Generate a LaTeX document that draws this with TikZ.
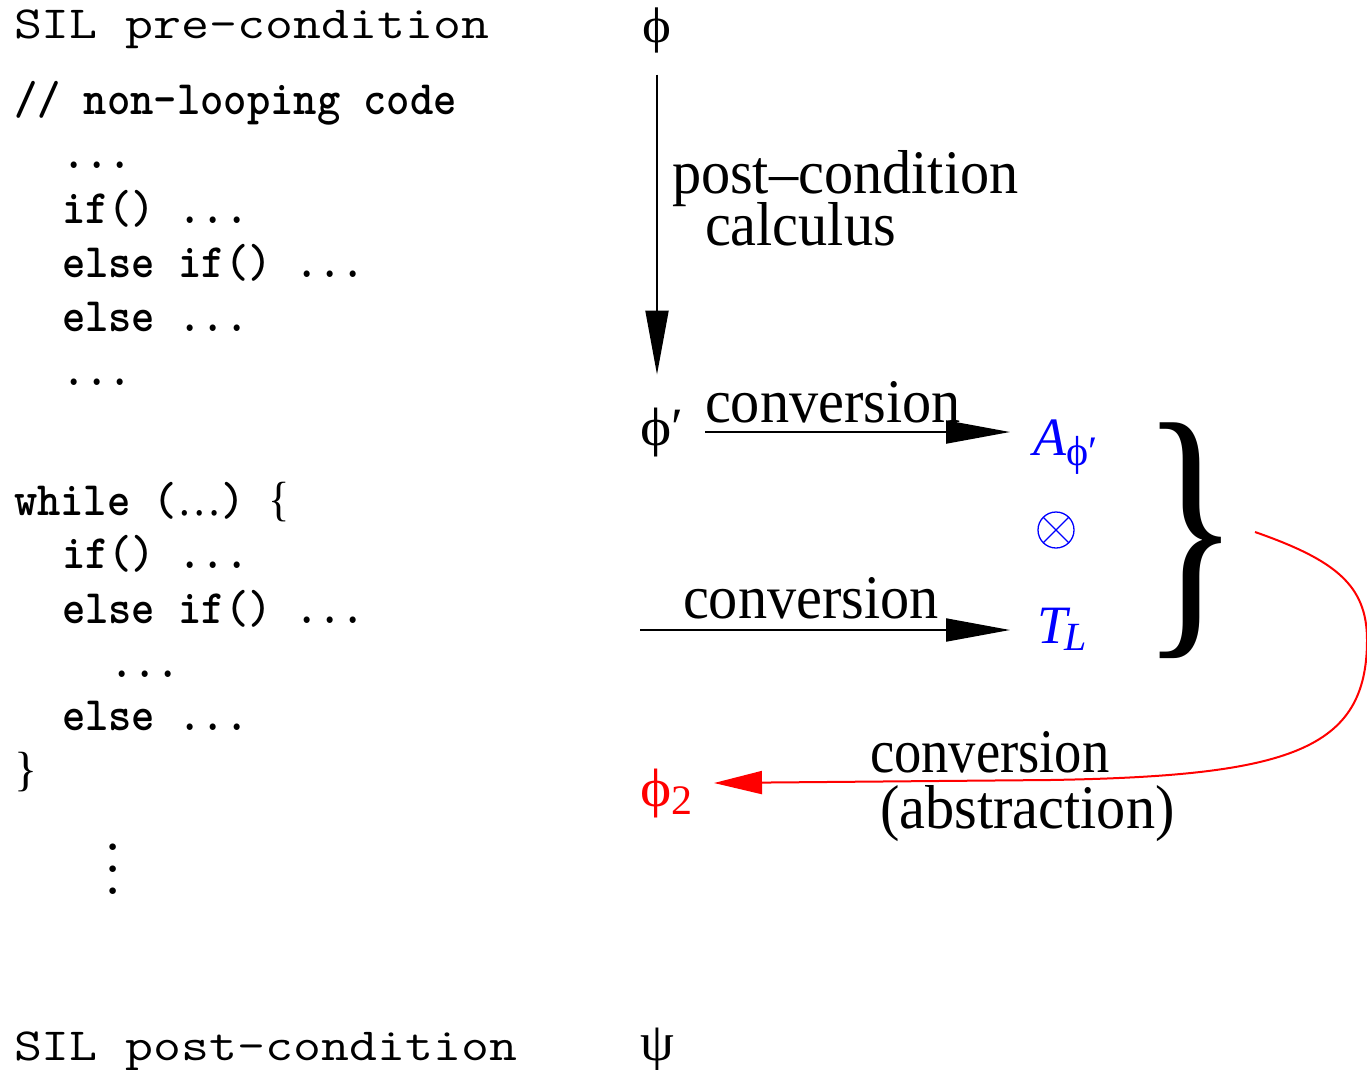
\documentclass[tikz,border=0pt]{standalone}
\usepackage{fontspec}
\setmainfont{Liberation Serif}
\usetikzlibrary{arrows.meta}
\begin{document}
\begin{tikzpicture}[x=1pt,y=-1pt,
  every node/.style={inner sep=0pt, outer sep=0pt},
  sil/.style={anchor=base west, font=\fontsize{46}{46}\selectfont\ttfamily},
  code/.style={anchor=base west, font=\fontsize{48}{48}\selectfont\ttfamily\bfseries},
  lbl/.style={anchor=base west, font=\fontsize{62}{62}\selectfont},
  sym/.style={font=\fontsize{54}{54}\selectfont},
  otimes/.style={circle, draw=blue, line width=1.3pt, minimum size=36pt,
    path picture={\draw[blue, line width=1.3pt]
      (path picture bounding box.north west) -- (path picture bounding box.south east)
      (path picture bounding box.north east) -- (path picture bounding box.south west);}},
  arr/.style={line width=2pt, -{Triangle[length=64pt,width=23pt]}},
  redarr/.style={red, line width=2pt, -{Triangle[length=48pt,width=23pt]}},
]
\useasboundingbox (0,0) rectangle (1367,1070);

% ---- SIL program text (left column) ----
\node[sil] (pre) at (14,39) {\scalebox{1.18}[1]{SIL pre-condition}};
\node[code] (c0) at (14,115) {\scalebox{0.925}[1]{// non-looping code}};
\node[code] (c1) at (62,168) {\scalebox{0.925}[1]{...}};
\node[code] (c2) at (62,223) {\scalebox{0.925}[1]{if() ...}};
\node[code] (c3) at (62,277) {\scalebox{0.925}[1]{else if() ...}};
\node[code] (c4) at (62,331) {\scalebox{0.925}[1]{else ...}};
\node[code] (c5) at (62,385) {\scalebox{0.925}[1]{...}};

\node[code] (w0) at (14,515) {\scalebox{0.925}[1]{while (\rmfamily\mdseries …\ttfamily\bfseries) \rmfamily\mdseries\{}};
\node[code] (w1) at (62,568) {\scalebox{0.925}[1]{if() ...}};
\node[code] (w2) at (62,623) {\scalebox{0.925}[1]{else if() ...}};
\node[code] (w3) at (110,677) {\scalebox{0.925}[1]{...}};
\node[code] (w4) at (62,730) {\scalebox{0.925}[1]{else ...}};
\node[code] (w5) at (14,785) {\rmfamily\mdseries\}};
\node[code, anchor=center, align=center, font=\fontsize{48}{22}\selectfont\ttfamily\bfseries] (vd) at (113,869) {.\\.\\.};

\node[sil] (post) at (14,1060) {\scalebox{1.18}[1]{SIL post-condition}};

% ---- formulas (right column) ----
\node[anchor=base, font=\fontsize{50}{50}\selectfont] (phi) at (657,43) {\scalebox{1.1}[1]{ϕ}};
\node[sym, anchor=base west] (phip) at (640,445) {\scalebox{1.1}[1]{ϕ}′};
\node[sym, anchor=base west, red] (phi2) at (640,806) {\scalebox{1.1}[1]{ϕ}\raisebox{-8pt}{\fontsize{42}{42}\selectfont 2}};
\node[sym, anchor=base west] (psi) at (640,1060) {ψ};

\node[sym, anchor=base west, blue] (Aphi) at (1033,455) {\textit{A}\raisebox{-10pt}{\fontsize{42}{42}\selectfont ϕ′}};
\node[otimes] (prod) at (1056,530) {};
\node[sym, anchor=base west, blue] (TL) at (1037,643) {\textit{T}\kern-6pt\raisebox{-7pt}{\fontsize{40}{40}\selectfont\textit{L}}};

\node[font=\fontsize{285}{285}\selectfont] (brace) at (1191,541) {\scalebox{0.72}[1]{\}}};

% ---- labels ----
\node[lbl] (lpost) at (672,193) {\scalebox{0.94}[1]{post\textendash condition}};
\node[lbl] (lcalc) at (705,245) {\scalebox{0.94}[1]{calculus}};
\node[lbl] (lconv1) at (705,422) {\scalebox{0.94}[1]{conversion}};
\node[lbl] (lconv2) at (683,618) {\scalebox{0.94}[1]{conversion}};
\node[lbl] (lconv3) at (870,772) {\scalebox{0.88}[1]{conversion}};
\node[lbl] (labstr) at (880,828) {\scalebox{0.94}[1]{(abstraction)}};

% ---- connectors ----
\draw[arr, shorten <=21pt, shorten >=33pt] (phi.south) -- (phi.south |- phip.north);
\draw[arr, shorten <=22pt, shorten >=23pt] (phip.east) -- (phip.east -| Aphi.west);
\coordinate (tstart) at (640,630);
\draw[arr, shorten >=27pt] (tstart) -- (tstart -| TL.west);

\coordinate (rs) at (1255,532);
\coordinate (re) at (714,783);
\draw[redarr] (rs) .. controls (1335,560) and (1367,585) .. (1367,640)
  .. controls (1367,750) and (1290,776) .. (1050,780) -- (re);
\end{tikzpicture}
\end{document}
